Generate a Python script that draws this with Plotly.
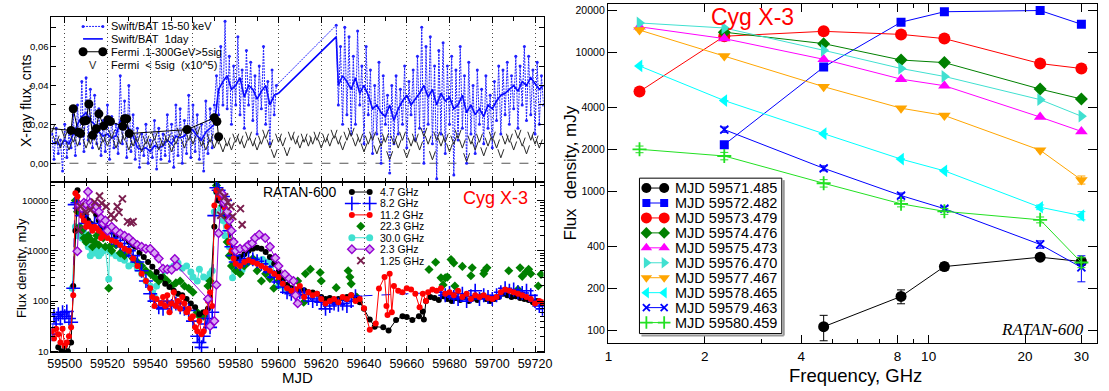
import plotly.graph_objects as go

W, H = 1109, 391
FONT = "Liberation Sans"

# ======================= DATA =======================
# --- Top-left: Swift/BAT 15-50 keV, orbit-resolved (about one value per day) ---
BAT_ORB_A_START = 59494
BAT_ORB_A = [0.015, 0.002, 0.018, 0.005, 0.012, -0.004, 0.020, 0.003, 0.016, 0.008, 0.025, 0.004,
             0.030, 0.010, 0.042, 0.006, 0.044, 0.012, 0.038, 0.008, 0.035, 0.010, 0.028, 0.004,
             0.022, 0.006, 0.030, 0.002, 0.024, 0.008, 0.020, 0.005, 0.045, 0.010, 0.032, 0.003,
             0.040, 0.006, 0.025, 0.002, 0.018, -0.002, 0.015, 0.004, 0.020, 0.000, 0.012, 0.003,
             0.022, -0.003, 0.018, 0.002, 0.015, 0.004, 0.025, 0.001, 0.020, -0.002, 0.030, 0.004,
             0.028, 0.000, 0.022, 0.005, 0.035, 0.003, 0.030, 0.006, 0.025, 0.002, 0.020, -0.004,
             0.032, 0.005, 0.028, 0.008, 0.030,
             0.045, 0.025, 0.060, 0.030, 0.073, 0.028, 0.055, 0.020, 0.050, 0.030, 0.065, 0.025,
             0.048, 0.018, 0.058, 0.030, 0.052, 0.022, 0.045, 0.015, 0.050, 0.028, 0.060, 0.020,
             0.042, 0.010, 0.048, 0.025, 0.040]
BAT_ORB_B_START = 59627
BAT_ORB_B = [0.071, 0.030, 0.060, 0.020, 0.070, 0.025, 0.065, 0.015, 0.055, 0.020, 0.068, 0.030,
             0.050, 0.010, 0.060, 0.025, 0.048, 0.005, 0.040, 0.015, 0.052, 0.000, 0.045, 0.020,
             0.035, -0.005, 0.040, 0.010, 0.045, 0.015, 0.038, 0.020, 0.050, 0.008, 0.042, 0.025,
             0.048, 0.012, 0.055, 0.018, 0.070, 0.000, 0.060, 0.020, 0.065, 0.010, 0.050, -0.008,
             0.058, 0.015, 0.062, 0.005, 0.050, 0.020, 0.055, -0.006, 0.048, 0.012, 0.060, 0.018,
             0.045, 0.000, 0.052, 0.015, 0.040, 0.005, 0.048, 0.020, 0.038, 0.010, 0.045, 0.018,
             0.035, 0.008, 0.042, 0.022, 0.050, 0.015, 0.048, 0.025, 0.052, 0.020, 0.045, 0.028,
             0.055, 0.018, 0.050, 0.030, 0.060, 0.022, 0.055, 0.025, 0.048, 0.015, 0.052, 0.020,
             0.045, 0.030]

# --- Swift/BAT 1-day averages ---
BAT_DAY_MJD = list(range(59494, 59601, 2)) + [59627] + list(range(59628, 59725, 2))
BAT_DAY = [0.010, 0.011, 0.009, 0.012, 0.010, 0.015, 0.020, 0.024, 0.026, 0.022,
           0.020, 0.016, 0.014, 0.015, 0.013, 0.014, 0.022, 0.020, 0.018, 0.014,
           0.008, 0.007, 0.008, 0.006, 0.009, 0.008, 0.009, 0.012, 0.010, 0.014,
           0.013, 0.014, 0.018, 0.017, 0.014, 0.012, 0.016, 0.018, 0.020, 0.038,
           0.042, 0.045, 0.038, 0.040, 0.044, 0.034, 0.040, 0.038, 0.033, 0.037,
           0.040, 0.030, 0.035, 0.036,
           0.065,
           0.040, 0.045, 0.042, 0.038, 0.044, 0.036, 0.040, 0.035, 0.028, 0.030,
           0.026, 0.024, 0.030, 0.022, 0.028, 0.032, 0.035, 0.030, 0.033, 0.036,
           0.040, 0.034, 0.038, 0.030, 0.036, 0.032, 0.034, 0.028, 0.030, 0.035,
           0.026, 0.030, 0.025, 0.028, 0.024, 0.030, 0.028, 0.032, 0.035, 0.036,
           0.038, 0.040, 0.037, 0.042, 0.040, 0.044, 0.041, 0.038, 0.040]

# --- Fermi detections > 5 sigma (MJD, flux) ---
FERMI = [(59490, 0.0182), (59503, 0.0169), (59504, 0.028), (59506.3, 0.016), (59507.4, 0.0153),
         (59509, 0.0217), (59510, 0.022), (59511.3, 0.0305), (59513, 0.0144), (59514.8, 0.0178),
         (59516, 0.0254), (59518.2, 0.0192), (59520.2, 0.0224), (59521.4, 0.0215), (59527.2, 0.019),
         (59528, 0.0229), (59529, 0.0229), (59530.2, 0.0153), (59557.3, 0.0173), (59570, 0.0234),
         (59571.2, 0.0215), (59572, 0.0136)]

# --- Fermi upper limits < 5 sigma (every 2 days from 59494) ---
FERMI_UL_MJD = list(range(59494, 59723, 2))
FERMI_UL = [0.018, 0.012, 0.010, 0.015, 0.009, 0.013, 0.011, 0.016, 0.010, 0.012,
            0.014, 0.009, 0.013, 0.011, 0.015, 0.010, 0.012, 0.014, 0.009, 0.011,
            0.013, 0.008, 0.012, 0.010, 0.014, 0.009, 0.011, 0.013, 0.008, 0.012,
            0.016, 0.010, 0.014, 0.012, 0.017, 0.011, 0.009, 0.013, 0.010, 0.012,
            0.008, 0.011, 0.009, 0.013, 0.012, 0.010, 0.014, 0.011, 0.009, 0.012,
            0.015, 0.010, 0.005, 0.013, 0.011, 0.006, 0.014, 0.012, 0.010, 0.013,
            0.011, 0.012, 0.014, 0.010, 0.013, 0.011, 0.015, 0.012, 0.009, 0.014,
            0.016, 0.011, 0.013, 0.008, 0.012, 0.014, 0.007, 0.011, 0.013, 0.004,
            0.012, 0.010, 0.014, 0.005, 0.011, 0.013, 0.009, 0.016, 0.012, 0.004,
            0.014, 0.011, 0.013, 0.008, 0.012, 0.015, 0.010, 0.003, 0.012, 0.009,
            0.013, 0.006, 0.011, 0.014, 0.010, 0.005, 0.012, 0.013, 0.009, 0.015,
            0.011, 0.007, 0.014, 0.012, 0.010]

# --- Bottom-left: RATAN-600 light curves (MJD, mJy) ---
R47 = [(59497, 12), (59498.5, 10), (59500, 13), (59501.5, 10), (59503, 15), (59504, 200), (59505, 2500),
       (59506, 16000), (59507, 8000), (59508, 6000), (59509, 5000), (59510, 4500), (59511, 4000),
       (59512, 3500), (59513, 3000), (59514.7, 5300), (59516, 4000), (59517, 3500), (59518, 3000),
       (59519, 2500), (59520, 2800), (59522, 2400), (59524, 2000), (59526, 2200), (59528, 1800),
       (59530, 1500), (59532, 1300), (59533, 1200), (59535, 900), (59537, 750), (59539, 600),
       (59541, 480), (59543, 380), (59545, 300), (59547, 220), (59549, 190), (59551, 160),
       (59553, 140), (59555, 130), (59557, 110), (59559, 90), (59561, 75), (59563, 55), (59565, 60),
       (59567, 70), (59568, 120), (59570, 3000), (59571, 15000), (59572, 10000), (59574, 8000),
       (59575, 9000), (59576, 5000), (59577, 3000), (59578, 1500), (59579, 900), (59580, 700),
       (59582, 750), (59584, 850), (59586, 1000), (59588, 1100), (59590, 1150), (59592, 1100),
       (59594, 950), (59596, 750), (59598, 550), (59600, 380), (59602, 260), (59604, 210),
       (59606, 180), (59608, 170), (59610, 160), (59612, 165), (59614, 150), (59616, 148),
       (59618, 140), (59620, 120), (59622, 110), (59624, 115), (59626, 100), (59628, 110),
       (59630, 115), (59632, 120), (59634, 130), (59636, 115), (59638, 95), (59640, 70),
       (59642.7, 43), (59645, 31), (59649, 30), (59651.5, 26), (59655, 42), (59658, 50), (59660, 48),
       (59662.6, 42), (59665.7, 50), (59667.5, 62), (59668, 43), (59669, 100), (59671, 120),
       (59673, 115), (59675, 105), (59677, 125), (59679, 110), (59681, 100), (59683, 115),
       (59685, 105), (59687, 120), (59689, 100), (59691, 115), (59693, 105), (59695, 125),
       (59697, 110), (59699, 100), (59701, 110), (59703, 120), (59705, 140), (59707, 130),
       (59709, 120), (59711, 125), (59713, 115), (59715, 110), (59717, 105), (59719, 95),
       (59721, 100), (59723, 90)]

R82 = [(59494, 22), (59495, 50), (59496, 35), (59497, 55), (59498, 45), (59499, 60), (59500, 50),
       (59501, 62), (59502, 45), (59503, 38), (59504, 180), (59504.7, 8300), (59506, 9000),
       (59507, 7000), (59508, 5000), (59510, 3500), (59512, 3000), (59514, 3500), (59516, 3000),
       (59518, 2500), (59520, 2300), (59522, 1800), (59524, 1600), (59526, 1400), (59528, 1200),
       (59530, 1000), (59532, 800), (59534, 600), (59536, 400), (59538, 250), (59540, 140),
       (59542, 100), (59544, 75), (59546, 70), (59548, 100), (59550, 80), (59552, 90), (59554, 75),
       (59556, 70), (59558, 65), (59560, 40), (59562, 20), (59563, 15), (59564, 12), (59565, 20),
       (59566, 35), (59567, 45), (59568, 30), (59569, 60), (59570, 5000), (59571, 18000),
       (59572, 16000), (59574, 12000), (59575, 10000), (59576, 5000), (59577, 2500), (59578, 1200),
       (59579, 800), (59580, 600), (59582, 550), (59584, 650), (59586, 700), (59588, 680),
       (59590, 620), (59592, 550), (59594, 480), (59596, 380), (59598, 300), (59600, 240),
       (59602, 190), (59604, 150), (59606, 140), (59608, 130), (59610, 150), (59612, 135),
       (59614, 115), (59616, 100), (59618, 110), (59620, 95), (59622, 70), (59624, 80), (59626, 90),
       (59628, 85), (59630, 90), (59632, 80), (59634, 100), (59636, 125), (59676, 150), (59678, 130),
       (59680, 145), (59682, 120), (59684, 110), (59686, 140), (59688, 100), (59690, 125),
       (59692, 160), (59694, 110), (59696, 130), (59698, 120), (59700, 110), (59702, 130),
       (59704, 150), (59706, 180), (59708, 160), (59710, 170), (59712, 150), (59714, 145),
       (59716, 160), (59718, 130), (59720, 100), (59722, 80), (59723.5, 70)]

R112 = [(59494, 25), (59495, 18), (59496, 28), (59497, 22), (59498, 15), (59499, 28), (59500, 13),
        (59501, 15), (59502, 20), (59503, 30), (59504, 130), (59505, 14000), (59506, 12000),
        (59507, 7000), (59508, 5000), (59509, 4000), (59510, 3000), (59511, 3500), (59512, 3000),
        (59513, 2500), (59514, 3000), (59515, 2800), (59516, 2500), (59517, 1800), (59518, 2200),
        (59519, 2000), (59520, 1800), (59522, 1600), (59524, 1500), (59526, 1300), (59528, 1100),
        (59530, 1000), (59532, 700), (59534, 500), (59536, 350), (59538, 250), (59540, 180),
        (59541, 120), (59542, 80), (59543, 110), (59545, 90), (59546, 120), (59547, 80), (59548, 130),
        (59549, 60), (59550, 90), (59551, 150), (59552, 80), (59553, 100), (59554, 70), (59555, 120),
        (59556, 90), (59557, 60), (59558, 70), (59559, 45), (59560, 50), (59561, 30), (59562, 25),
        (59563, 40), (59564, 22), (59565, 25), (59566, 60), (59567, 100), (59568, 150), (59569, 80),
        (59570, 8000), (59571, 16000), (59572, 13000), (59573, 11000), (59574, 9000), (59575, 7000),
        (59576, 3000), (59577, 1500), (59578, 1000), (59579, 700), (59580, 550), (59582, 500),
        (59584, 600), (59586, 650), (59588, 600), (59590, 550), (59592, 500), (59594, 450),
        (59596, 400), (59598, 350), (59600, 300), (59602, 220), (59604, 180), (59606, 160),
        (59608, 170), (59610, 200), (59612, 120), (59614, 150), (59616, 130), (59618, 140),
        (59620, 110), (59622, 90), (59624, 100), (59626, 110), (59628, 95), (59630, 120),
        (59632, 110), (59634, 130), (59636, 100), (59638, 110), (59640, 72), (59642.7, 27),
        (59645.5, 36), (59647, 178), (59649.6, 300), (59650.5, 80), (59651, 53), (59652, 350),
        (59653, 60), (59654, 200), (59656, 160), (59658, 150), (59660, 180), (59662, 170),
        (59664, 140), (59666, 75), (59667.5, 140), (59669, 100), (59670, 150), (59672, 170),
        (59674, 160), (59676, 180), (59678, 140), (59680, 150), (59682, 130), (59684, 160),
        (59686, 120), (59688, 140), (59690, 110), (59692, 130), (59694, 120), (59696, 130),
        (59698, 115), (59700, 110), (59702, 120), (59704, 150), (59706, 170), (59708, 160),
        (59710, 150), (59712, 140), (59714, 130), (59716, 120), (59718, 110), (59720, 90),
        (59722, 100), (59723.5, 95)]

R223 = [(59505, 10000), (59506, 6000), (59507, 3000), (59508, 2500), (59509, 1800), (59510, 1500),
        (59511, 2000), (59512, 1700), (59513, 1200), (59514, 1500), (59515, 2000), (59516, 1300),
        (59517, 2500), (59518, 1800), (59519, 1200), (59520.6, 180), (59521, 1200), (59522, 1000),
        (59524, 1300), (59526, 900), (59528, 800), (59530, 1000), (59532, 700), (59534, 600),
        (59536, 500), (59538, 400), (59540, 350), (59542, 300), (59544, 250), (59546, 300),
        (59548, 250), (59550, 200), (59552, 230), (59554, 250), (59556, 200), (59558, 180),
        (59560, 150), (59562, 60), (59563, 50), (59564, 55), (59565, 50), (59567, 200), (59568, 250),
        (59571, 20000), (59572, 15000), (59574, 8000), (59575, 5000), (59576, 1500), (59577, 800),
        (59578, 500), (59580, 400), (59582, 350), (59584, 500), (59586, 600), (59588, 700),
        (59590, 400), (59592, 250), (59594, 350), (59596, 280), (59597.8, 180), (59600, 250),
        (59602, 300), (59604, 200), (59606, 160), (59609, 250), (59611.8, 95), (59612.6, 350),
        (59614.9, 430), (59619.5, 370), (59620, 250), (59627, 185), (59632.6, 400), (59633.4, 300),
        (59634, 220), (59636.6, 120), (59670.4, 425), (59673.5, 590), (59676, 290), (59677, 210),
        (59678, 290), (59679, 300), (59680.7, 670), (59682, 570), (59682.5, 200), (59686, 490),
        (59690, 320), (59690.6, 460), (59696, 350), (59696.4, 400), (59697.5, 460), (59707.7, 400),
        (59712, 170), (59713, 460), (59714, 310), (59715.8, 380), (59717, 430), (59718, 350),
        (59721.5, 200), (59722.8, 340)]

R300 = [(59503.5, 180), (59505, 3000), (59506, 2000), (59507, 2500), (59508, 1800), (59509, 2200),
        (59510, 1500), (59511, 1200), (59512, 800), (59513, 1000), (59514, 900), (59515, 1100),
        (59516, 800), (59517, 900), (59518, 1000), (59519, 1100), (59520.6, 275), (59521, 1000),
        (59522, 900), (59524, 800), (59526, 700), (59528, 650), (59530, 500), (59532, 550),
        (59534, 450), (59536, 350), (59538, 250), (59540, 200), (59541, 150), (59542, 120),
        (59543, 200), (59545, 300), (59547, 400), (59549, 450), (59551, 500), (59553, 570),
        (59555, 450), (59557, 500), (59559, 380), (59560, 300), (59562, 250), (59563, 430),
        (59565, 300), (59567, 280), (59568, 350), (59569, 400), (59570, 6000), (59571, 15000),
        (59572, 12000), (59573, 7000), (59574, 4000), (59575, 2000), (59576, 3150), (59577, 1200),
        (59578.5, 290), (59580, 450), (59582, 400), (59583, 420), (59586, 620), (59588, 600),
        (59590, 650), (59592.5, 670), (59595, 600), (59597, 540), (59600, 200), (59603, 180),
        (59606, 160)]

R23 = [(59505.9, 980), (59507, 8000), (59508, 7000), (59509, 9000), (59510, 8500), (59510.9, 15000),
       (59512, 9000), (59513, 8000), (59514, 7000), (59515, 7500), (59516, 6000), (59517, 4500),
       (59518, 3500), (59519, 4000), (59520, 2500), (59522, 3000), (59524, 2500), (59526, 2200),
       (59528, 2000), (59530, 1800), (59532, 1500), (59534, 1300), (59536, 1200), (59538, 1100),
       (59540, 1100), (59542, 900), (59544, 700), (59546, 440), (59548, 430), (59550, 420),
       (59551.5, 690), (59552.5, 500), (59567, 110), (59568, 32), (59570, 40), (59571, 210),
       (59572, 2240), (59573.5, 13800), (59574.5, 9000), (59575, 10000), (59576, 6000),
       (59577, 4000), (59578, 2500), (59579, 1500), (59580, 1000), (59582, 1100), (59584.6, 1150),
       (59586, 1300), (59587.7, 1420), (59589, 1800), (59591, 2100), (59593.8, 1800), (59596, 1200),
       (59598.5, 720), (59600, 500), (59603, 340), (59605, 280), (59607, 250), (59608, 130),
       (59609, 90)]

R125 = [(59506.7, 2600), (59507.4, 7600), (59509.7, 6000), (59512, 6500), (59514, 9300),
        (59516.3, 12300), (59517.3, 8800), (59519.4, 7600), (59521.7, 5200), (59523, 4500),
        (59524.6, 7600), (59525.4, 5800), (59527, 10800), (59529.4, 3800), (59531, 3600),
        (59532, 3800), (59572.5, 14800), (59573, 5100), (59574.8, 11800), (59576.3, 9300),
        (59577.8, 7600), (59578.6, 4800), (59582.2, 6900), (59583, 3300)]

# --- Right: RATAN-600 spectra (GHz, mJy) ---
FREQ = [1.25, 2.3, 4.7, 8.2, 11.2, 22.3, 30.0]
SPECTRA_MJD = ["59571.485", "59572.482", "59573.479", "59574.476", "59575.473",
               "59576.470", "59577.467", "59578.465", "59579.463", "59580.459"]
S71 = [None, None, 106, 175, 287, 335, 312]
S72 = [None, 2160, 7800, 16400, 19500, 19900, 15850]
S73 = [5200, 13000, 14100, 13400, 12500, 8270, 7620]
S74 = [None, 13900, 11500, 8770, 8400, 5420, 4600]
S75 = [15200, 12500, 8870, 6390, 5730, 3410, 2690]
S76 = [16200, 14900, 10300, 7620, 6680, 4550, 3460]
S77 = [14400, 9370, 5640, 3950, 3500, 1970, 1205]
S78 = [7950, 4480, 2590, 1700, 1400, 766, 667]
S79 = [None, 2770, 1460, 930, 748, 414, 283]
S80 = [2000, 1790, 1140, 811, 716, 622, 307]
E71 = [0, 0, 22, 20, 18, 15, 20]
E77 = [0, 0, 0, 0, 0, 0, 80]
E78 = [0, 0, 0, 0, 0, 30, 45]
E79 = [0, 120, 60, 40, 30, 25, 60]
E80 = [110, 110, 70, 40, 35, 30, 25]

# ======================= HELPERS =======================
def px(x):
    return x / W


def py(y):
    return 1 - y / H


def unzip(pairs):
    return [p[0] for p in pairs], [p[1] for p in pairs]


def axis(**kw):
    base = dict(showline=True, linecolor="black", linewidth=1, mirror="ticks", ticks="inside",
                tickcolor="black", tickwidth=1, zeroline=False, showgrid=False,
                tickfont=dict(family=FONT, size=10, color="black"))
    base.update(kw)
    return base


fig = go.Figure()

# ======================= TOP-LEFT =======================
orb_x = [BAT_ORB_A_START + i for i in range(len(BAT_ORB_A))] + \
        [BAT_ORB_B_START + i for i in range(len(BAT_ORB_B))]
orb_y = BAT_ORB_A + BAT_ORB_B
n_day = min(len(BAT_DAY_MJD), len(BAT_DAY))
BLUE_DOT = "#2020ff"
fig.add_trace(go.Scatter(x=BAT_DAY_MJD[:n_day], y=BAT_DAY[:n_day], mode="lines", xaxis="x", yaxis="y",
                         line=dict(color="#0000ff", width=1.6), showlegend=False))
fig.add_trace(go.Scatter(x=orb_x, y=orb_y, mode="lines+markers", xaxis="x", yaxis="y",
                         line=dict(color=BLUE_DOT, width=1, dash="2px,1px"),
                         marker=dict(size=3, color=BLUE_DOT), showlegend=False))

# Fermi < 5 sigma: each value drawn as a small "V" glyph (two strokes meeting at the value)
V_HALF_W = 1.4      # days
V_HALF_H = 0.0022   # flux units
vx, vy = [], []
for m, v in zip(FERMI_UL_MJD, FERMI_UL):
    vx += [m - V_HALF_W, m, m + V_HALF_W, None]
    vy += [v + V_HALF_H, v - V_HALF_H, v + V_HALF_H, None]
fig.add_trace(go.Scatter(x=vx, y=vy, mode="lines", xaxis="x", yaxis="y",
                         line=dict(color="#2a2a2a", width=1), showlegend=False))

fx, fy = unzip(FERMI)
fig.add_trace(go.Scatter(x=fx, y=fy, mode="lines+markers", xaxis="x", yaxis="y",
                         line=dict(color="black", width=1), marker=dict(size=9, color="black"),
                         showlegend=False))

# ======================= BOTTOM-LEFT =======================
RADIO_STYLES = [
    (R300, "30.0 GHz", "lines+markers", dict(symbol="circle", size=7, color="#40e0d0"),
     dict(color="#40e0d0", width=1)),
    (R223, "22.3 GHz", "markers", dict(symbol="diamond", size=7, color="#008000"), None),
    (R47, "4.7 GHz", "lines+markers", dict(symbol="circle", size=6, color="black"),
     dict(color="black", width=1)),
    (R82, "8.2 GHz", "lines+markers",
     dict(symbol="cross-thin", size=10, color="#0000ff", line=dict(color="#0000ff", width=1.6)),
     dict(color="#0000ff", width=1, dash="dash")),
    (R112, "11.2 GHz", "lines+markers", dict(symbol="circle", size=6, color="#ff0000"),
     dict(color="#ff0000", width=1)),
    (R23, "2.3 GHz", "lines+markers",
     dict(symbol="diamond", size=6.5, color="#d9a6f2", line=dict(color="#9400d3", width=1.4)),
     dict(color="#9400d3", width=1)),
    (R125, "1.25 GHz", "markers",
     dict(symbol="x-thin", size=7, color="#7b1f4f", line=dict(color="#7b1f4f", width=2)), None),
]
for data, label, mode, mk, ln in RADIO_STYLES:
    xs, ys = unzip(data)
    kw = dict(x=xs, y=ys, mode=mode, marker=mk, xaxis="x2", yaxis="y2", showlegend=False)
    if ln:
        kw["line"] = ln
    fig.add_trace(go.Scatter(**kw))

# ======================= RIGHT =======================
SPEC_STYLES = [
    (S71, E71, "black", dict(symbol="circle", size=11)),
    (S72, None, "#0000ff", dict(symbol="square", size=9)),
    (S73, None, "#ff0000", dict(symbol="circle", size=12)),
    (S74, None, "#008000", dict(symbol="diamond", size=10)),
    (S75, None, "#ff00ff", dict(symbol="triangle-up", size=11)),
    (S76, None, "#40e0d0", dict(symbol="triangle-right", size=11)),
    (S77, E77, "#ffa500", dict(symbol="triangle-down", size=11)),
    (S78, E78, "#00ffff", dict(symbol="triangle-left", size=11)),
    (S79, E79, "#0000ff", dict(symbol="x-thin", size=8)),
    (S80, E80, "#22e022", dict(symbol="cross-thin", size=10)),
]
for vals, err, col, mk in SPEC_STYLES:
    m = dict(mk)
    m["color"] = col
    if "thin" in m["symbol"]:
        m["line"] = dict(color=col, width=1.8)
    kw = dict(x=FREQ, y=vals, mode="lines+markers", marker=m, line=dict(color=col, width=1),
              xaxis="x3", yaxis="y3", showlegend=False)
    if err:
        kw["error_y"] = dict(type="data", array=err, color=col, thickness=1, width=4)
    fig.add_trace(go.Scatter(**kw))

# ======================= MANUAL LEGENDS (pixel overlay axes) =======================
annotations = []
shapes = []


def leg_label(x, y, text, size, anchor="left", color="black", family=FONT):
    annotations.append(dict(x=px(x), y=py(y), xref="paper", yref="paper", text=text, showarrow=False,
                            xanchor=anchor, yanchor="middle",
                            font=dict(family=family, size=size, color=color)))


def leg_glyph(x0, x1, y, mode, marker=None, line=None):
    if mode == "markers":
        xs, ys = [(x0 + x1) / 2], [y]
    else:
        xs, ys = [x0, x1], [y, y]
    kw = dict(x=xs, y=ys, mode=mode, xaxis="x4", yaxis="y4", showlegend=False, hoverinfo="skip")
    if marker:
        kw["marker"] = marker
    if line:
        kw["line"] = line
    fig.add_trace(go.Scatter(**kw))


NB = "\u00a0"
# Top-left legend
TL_ROWS = [26.7, 39.3, 52.3, 65.7]
leg_glyph(80, 100, TL_ROWS[0], "lines+markers", dict(size=3, color=BLUE_DOT),
          dict(color=BLUE_DOT, width=1, dash="2px,1px"))
leg_label(106, TL_ROWS[0], "Swift/BAT 15-50 keV", 11)
leg_glyph(80, 100, TL_ROWS[1], "lines", None, dict(color="#0000ff", width=1.6))
leg_label(106, TL_ROWS[1], "Swift/BAT" + NB + NB + "1day", 11)
leg_glyph(80, 100, TL_ROWS[2], "lines+markers", dict(size=9, color="black"),
          dict(color="black", width=1))
leg_label(106, TL_ROWS[2], "Fermi .1-300GeV>5sig", 11)
leg_label(90, TL_ROWS[3], "V", 11, anchor="center", color="#2a2a2a")
leg_label(106, TL_ROWS[3], "Fermi" + NB + NB + "<" + NB + "5sig" + NB + NB + "(x10^5)", 11)

# Bottom-left legend
BL_ORDER = ["4.7 GHz", "8.2 GHz", "11.2 GHz", "22.3 GHz", "30.0 GHz", "2.3 GHz", "1.25 GHz"]
style_by_label = {s[1]: s for s in RADIO_STYLES}
for i, lab in enumerate(BL_ORDER):
    yrow = 194 + 11.55 * i
    _, _, mode, mk, ln = style_by_label[lab]
    leg_glyph(352, 370, yrow, mode, mk, ln)
    leg_label(378, yrow, lab, 10.5)

# Right legend box (outline only, with a grey drop shadow)
shapes.append(dict(type="line", xref="paper", yref="paper", x0=px(789), x1=px(789), y0=py(339),
                   y1=py(182), line=dict(color="#999999", width=2), layer="above"))
shapes.append(dict(type="line", xref="paper", yref="paper", x0=px(645), x1=px(789), y0=py(339),
                   y1=py(339), line=dict(color="#999999", width=2), layer="above"))
shapes.append(dict(type="rect", xref="paper", yref="paper", x0=px(643), x1=px(787), y0=py(337),
                   y1=py(180), line=dict(color="black", width=1), layer="above"))
for i, ((vals, err, col, mk), mjd) in enumerate(zip(SPEC_STYLES, SPECTRA_MJD)):
    yrow = 190 + 15.1 * i
    m = dict(mk)
    m["color"] = col
    m["size"] = max(m["size"] - 1, 7)
    if "thin" in m["symbol"]:
        m["line"] = dict(color=col, width=1.8)
    leg_glyph(650, 668, yrow, "lines+markers", m, dict(color=col, width=1))
    leg_label(677, yrow, "MJD " + mjd, 14.5)

# ======================= TEXT ANNOTATIONS =======================
def text_at(x, y, text, size, color="black", angle=0, family=FONT):
    annotations.append(dict(x=px(x), y=py(y), xref="paper", yref="paper", text=text, showarrow=False,
                            xanchor="center", yanchor="middle", textangle=angle,
                            font=dict(family=family, size=size, color=color)))


text_at(21.7, 101.7, "X-ray flux, cnts", 14, angle=-90)
text_at(17, 271, "Flux density, mJy", 13, angle=-90)
text_at(297, 381, "MJD", 15)
text_at(300, 194, "RATAN-600", 14)
text_at(497, 200, "Cyg X-3", 18, color="#ff0000")
text_at(757, 17, "Cyg X-3", 23, color="#ff0000")
text_at(1051, 333, "<i>RATAN-600</i>", 17, family="Liberation Serif")
text_at(573, 175, "Flux" + NB + NB + "density, mJy", 17, angle=-90)
text_at(862, 379, "Frequency, GHz", 18.5)

# dashed zero line in top-left panel
shapes.append(dict(type="line", xref="x domain", yref="y", x0=0, x1=1, y0=0, y1=0,
                   line=dict(color="#555555", width=1.2, dash="dash"), layer="below"))

# ======================= AXES =======================
MJD_MAJOR = list(range(59500, 59721, 20))
MJD_MINOR = list(range(59510, 59721, 20))
XRAY_TICKS = [-0.01, 0.0, 0.01, 0.02, 0.03, 0.04, 0.05, 0.06, 0.07]
XRAY_LABELS = ["", "0,00", "", "0,02", "", "0,04", "", "0,06", ""]
RADIO_TICKS = [10, 100, 1000, 10000]
RADIO_MINOR = [d * m for d in (10, 100, 1000) for m in range(2, 10)] + [20000]
SPEC_Y_TICKS = [100, 200, 400, 1000, 2000, 4000, 10000, 20000]
SPEC_X_TICKS = [1, 2, 4, 8, 10, 20, 30]
SPEC_X_MINOR = [3, 5, 6, 7, 9]

X_DOM = [px(48), px(546)]
X_RANGE = [59493.8, 59724]
grid = dict(showgrid=True, gridcolor="#444444", griddash="1px,3px", gridwidth=1)

fig.update_layout(
    width=W, height=H, autosize=False,
    margin=dict(l=0, r=0, t=0, b=0, pad=0),
    paper_bgcolor="white", plot_bgcolor="rgba(0,0,0,0)",
    showlegend=False,
    xaxis=axis(domain=X_DOM, range=X_RANGE, anchor="y", tickvals=MJD_MAJOR, showticklabels=False,
               ticklen=6, minor=dict(tickvals=MJD_MINOR, ticklen=4, ticks="inside", tickcolor="black"),
               **grid),
    yaxis=axis(domain=[py(184), py(17)], range=[-0.0097, 0.0753], anchor="x", tickvals=XRAY_TICKS,
               ticktext=XRAY_LABELS, ticklen=5, tickfont=dict(family=FONT, size=9.5, color="black")),
    xaxis2=axis(domain=X_DOM, range=X_RANGE, anchor="y2", tickvals=MJD_MAJOR,
                ticktext=[str(v) for v in MJD_MAJOR], ticklen=6,
                tickfont=dict(family=FONT, size=12.5, color="black"),
                minor=dict(tickvals=MJD_MINOR, ticklen=4, ticks="inside", tickcolor="black"), **grid),
    yaxis2=axis(type="log", domain=[py(356), py(184)], range=[0.98, 4.366], anchor="x2",
                tickvals=RADIO_TICKS, ticktext=[str(v) for v in RADIO_TICKS], ticklen=7,
                tickfont=dict(family=FONT, size=9.5, color="black"),
                minor=dict(tickvals=RADIO_MINOR, ticklen=4, ticks="inside", tickcolor="black")),
    xaxis3=axis(type="log", domain=[px(611), px(1106)], range=[-0.002, 1.526], anchor="y3",
                tickvals=SPEC_X_TICKS, ticktext=[str(v) for v in SPEC_X_TICKS], ticklen=8,
                tickfont=dict(family=FONT, size=13.5, color="black"),
                minor=dict(tickvals=SPEC_X_MINOR, ticklen=4, ticks="inside", tickcolor="black")),
    yaxis3=axis(type="log", domain=[py(347), py(4)], range=[1.905, 4.346], anchor="x3",
                tickvals=SPEC_Y_TICKS, ticktext=[str(v) for v in SPEC_Y_TICKS], ticklen=9,
                tickfont=dict(family=FONT, size=10.5, color="black")),
    xaxis4=dict(domain=[0, 1], range=[0, W], visible=False, fixedrange=True, anchor="y4"),
    yaxis4=dict(domain=[0, 1], range=[H, 0], visible=False, fixedrange=True, anchor="x4"),
    annotations=annotations,
    shapes=shapes,
)

fig.write_html("out.html", config={"displayModeBar": False},
               post_script="document.body.style.margin='0';")
